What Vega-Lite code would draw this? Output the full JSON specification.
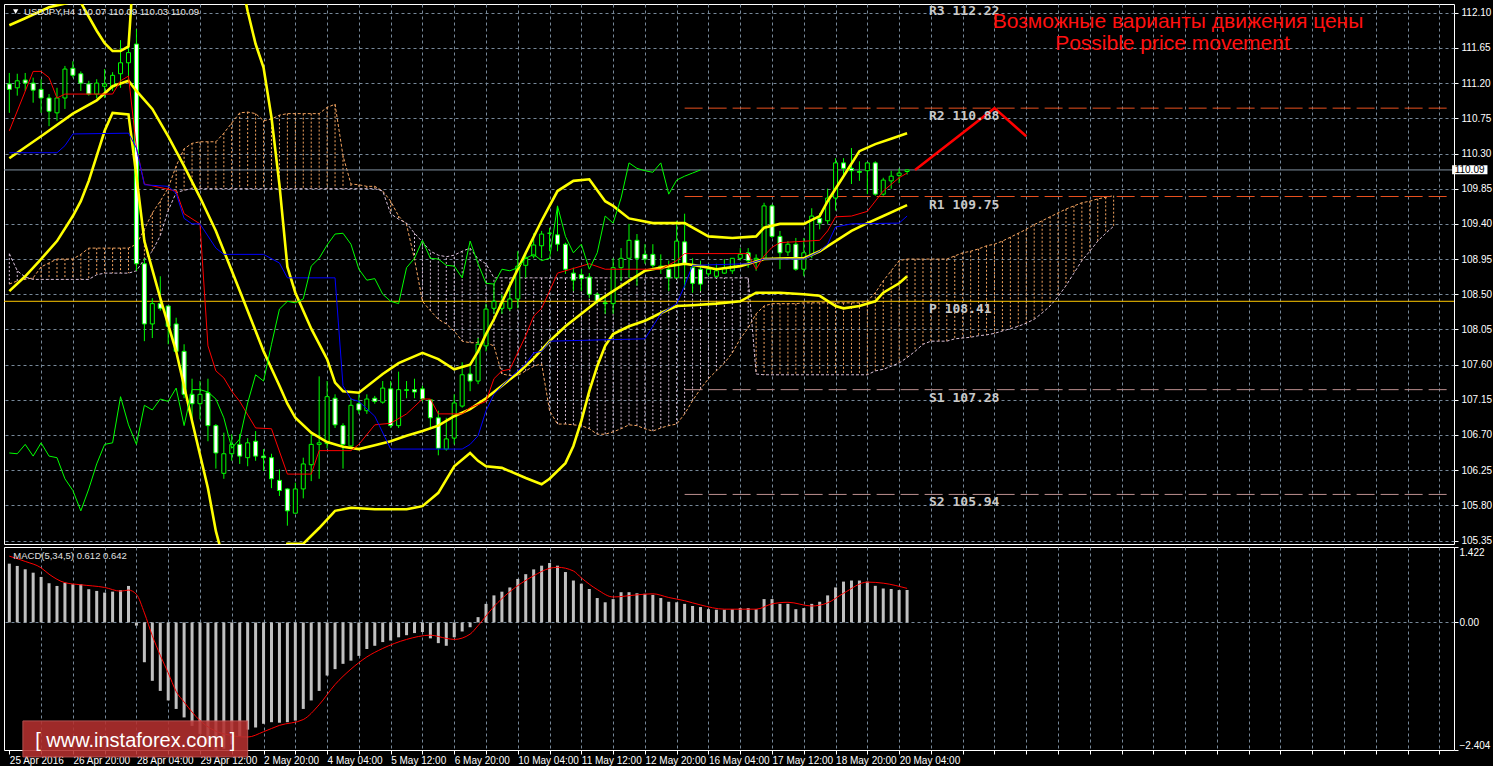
{
"$schema": "https://vega.github.io/schema/vega-lite/v6.json",
"background": "#000000",
"padding": {"left": 3, "top": 3, "right": 0, "bottom": 0},
"bounds": "flush",
"spacing": 3,
"config": {
  "view": {"stroke": "#FFFFFF", "strokeWidth": 1},
  "axis": {"gridColor": "#778899", "gridDash": [3, 3], "gridWidth": 1, "labelColor": "#FFFFFF", "labelFont": "Liberation Sans", "labelFontSize": 10, "tickColor": "#FFFFFF", "tickSize": 4, "domain": false, "labelOverlap": false}
},
"datasets": {
  "candles": [
    {"i":0,"o":111.19,"h":111.33,"l":110.82,"c":111.12},{"i":1,"o":111.14,"h":111.32,"l":111.04,"c":111.23},{"i":2,"o":111.24,"h":111.33,"l":111.10,"c":111.20},{"i":3,"o":111.20,"h":111.27,"l":110.95,"c":111.11},{"i":4,"o":111.12,"h":111.25,"l":110.82,"c":111.01},{"i":5,"o":111.01,"h":111.06,"l":110.65,"c":110.84},{"i":6,"o":110.82,"h":111.14,"l":110.72,"c":111.01},{"i":7,"o":111.01,"h":111.42,"l":110.87,"c":111.38},{"i":8,"o":111.39,"h":111.48,"l":111.27,"c":111.30},{"i":9,"o":111.32,"h":111.35,"l":111.10,"c":111.20},
    {"i":10,"o":111.19,"h":111.23,"l":111.04,"c":111.06},{"i":11,"o":111.06,"h":111.25,"l":111.01,"c":111.20},{"i":12,"o":111.16,"h":111.38,"l":111.01,"c":111.19},{"i":13,"o":111.15,"h":111.34,"l":111.10,"c":111.30},{"i":14,"o":111.32,"h":111.75,"l":111.14,"c":111.46},{"i":15,"o":111.46,"h":111.76,"l":111.25,"c":111.59},{"i":16,"o":111.70,"h":111.89,"l":108.80,"c":108.89},{"i":17,"o":108.89,"h":108.96,"l":107.90,"c":108.12},{"i":18,"o":108.12,"h":108.45,"l":107.94,"c":108.38},{"i":19,"o":108.38,"h":108.73,"l":108.29,"c":108.32},
    {"i":20,"o":108.35,"h":108.35,"l":107.86,"c":108.09},{"i":21,"o":108.12,"h":108.20,"l":107.75,"c":107.77},{"i":22,"o":107.77,"h":107.86,"l":107.17,"c":107.22},{"i":23,"o":107.22,"h":107.42,"l":106.90,"c":107.10},{"i":24,"o":107.10,"h":107.39,"l":106.90,"c":107.22},{"i":25,"o":107.24,"h":107.42,"l":106.62,"c":106.82},{"i":26,"o":106.82,"h":106.84,"l":106.27,"c":106.47},{"i":27,"o":106.21,"h":106.73,"l":106.14,"c":106.46},{"i":28,"o":106.46,"h":106.71,"l":106.37,"c":106.58},{"i":29,"o":106.58,"h":106.71,"l":106.33,"c":106.43},
    {"i":30,"o":106.41,"h":106.66,"l":106.30,"c":106.60},{"i":31,"o":106.62,"h":106.75,"l":106.37,"c":106.43},{"i":32,"o":106.43,"h":106.52,"l":106.24,"c":106.41},{"i":33,"o":106.41,"h":106.46,"l":106.02,"c":106.14},{"i":34,"o":106.12,"h":106.26,"l":105.92,"c":105.99},{"i":35,"o":106.01,"h":106.02,"l":105.54,"c":105.73},{"i":36,"o":105.70,"h":106.09,"l":105.70,"c":106.01},{"i":37,"o":106.01,"h":106.41,"l":105.89,"c":106.33},{"i":38,"o":106.32,"h":106.71,"l":106.11,"c":106.58},{"i":39,"o":106.58,"h":107.45,"l":106.14,"c":106.60},
    {"i":40,"o":106.59,"h":107.39,"l":106.53,"c":107.19},{"i":41,"o":107.17,"h":107.22,"l":106.79,"c":106.83},{"i":42,"o":106.82,"h":106.85,"l":106.27,"c":106.58},{"i":43,"o":106.56,"h":107.17,"l":106.53,"c":107.08},{"i":44,"o":107.10,"h":107.22,"l":106.97,"c":107.02},{"i":45,"o":107.01,"h":107.22,"l":106.97,"c":107.16},{"i":46,"o":107.17,"h":107.20,"l":107.10,"c":107.13},{"i":47,"o":107.12,"h":107.39,"l":107.10,"c":107.30},{"i":48,"o":107.29,"h":107.39,"l":106.79,"c":106.82},{"i":49,"o":106.82,"h":107.51,"l":106.79,"c":107.28},
    {"i":50,"o":107.27,"h":107.39,"l":107.17,"c":107.28},{"i":51,"o":107.28,"h":107.42,"l":107.17,"c":107.25},{"i":52,"o":107.29,"h":107.33,"l":107.13,"c":107.16},{"i":53,"o":107.15,"h":107.16,"l":106.79,"c":106.92},{"i":54,"o":106.92,"h":107.01,"l":106.44,"c":106.53},{"i":55,"o":106.52,"h":106.92,"l":106.50,"c":106.65},{"i":56,"o":106.66,"h":107.22,"l":106.58,"c":107.11},{"i":57,"o":107.07,"h":107.63,"l":107.05,"c":107.47},{"i":58,"o":107.48,"h":107.61,"l":107.26,"c":107.39},{"i":59,"o":107.39,"h":107.94,"l":107.35,"c":107.86},
    {"i":60,"o":107.84,"h":108.38,"l":107.77,"c":108.31},{"i":61,"o":108.32,"h":108.63,"l":108.25,"c":108.41},{"i":62,"o":108.32,"h":108.50,"l":108.25,"c":108.39},{"i":63,"o":108.32,"h":108.58,"l":108.29,"c":108.44},{"i":64,"o":108.44,"h":109.05,"l":108.32,"c":108.86},{"i":65,"o":108.87,"h":109.05,"l":108.71,"c":108.96},{"i":66,"o":108.99,"h":109.28,"l":108.96,"c":109.13},{"i":67,"o":109.12,"h":109.31,"l":108.96,"c":109.27},{"i":68,"o":109.28,"h":109.35,"l":109.05,"c":109.28},{"i":69,"o":109.26,"h":109.63,"l":109.05,"c":109.14},
    {"i":70,"o":109.14,"h":109.16,"l":108.76,"c":108.82},{"i":71,"o":108.77,"h":108.84,"l":108.54,"c":108.68},{"i":72,"o":108.75,"h":108.82,"l":108.54,"c":108.70},{"i":73,"o":108.72,"h":108.77,"l":108.45,"c":108.50},{"i":74,"o":108.50,"h":108.52,"l":108.38,"c":108.41},{"i":75,"o":108.39,"h":108.45,"l":108.25,"c":108.38},{"i":76,"o":108.38,"h":108.96,"l":108.25,"c":108.84},{"i":77,"o":108.84,"h":109.09,"l":108.67,"c":108.96},{"i":78,"o":108.96,"h":109.40,"l":108.71,"c":109.19},{"i":79,"o":109.19,"h":109.27,"l":108.61,"c":108.96},
    {"i":80,"o":109.01,"h":109.14,"l":108.89,"c":108.95},{"i":81,"o":109.01,"h":109.14,"l":108.84,"c":108.87},{"i":82,"o":108.82,"h":109.01,"l":108.76,"c":108.86},{"i":83,"o":108.82,"h":108.93,"l":108.54,"c":108.71},{"i":84,"o":108.71,"h":109.44,"l":108.71,"c":109.18},{"i":85,"o":109.17,"h":109.53,"l":108.58,"c":108.89},{"i":86,"o":108.84,"h":108.96,"l":108.52,"c":108.64},{"i":87,"o":108.82,"h":108.93,"l":108.54,"c":108.63},{"i":88,"o":108.76,"h":108.89,"l":108.73,"c":108.82},{"i":89,"o":108.73,"h":108.89,"l":108.71,"c":108.80},
    {"i":90,"o":108.77,"h":108.95,"l":108.76,"c":108.84},{"i":91,"o":108.80,"h":108.96,"l":108.76,"c":108.96},{"i":92,"o":108.96,"h":109.09,"l":108.93,"c":109.01},{"i":93,"o":109.03,"h":109.09,"l":108.84,"c":108.93},{"i":94,"o":108.94,"h":109.01,"l":108.80,"c":108.96},{"i":95,"o":108.96,"h":109.67,"l":108.95,"c":109.63},{"i":96,"o":109.63,"h":109.65,"l":109.22,"c":109.24},{"i":97,"o":109.24,"h":109.31,"l":108.82,"c":109.03},{"i":98,"o":109.04,"h":109.18,"l":108.99,"c":109.14},{"i":99,"o":109.14,"h":109.22,"l":108.80,"c":108.82},
    {"i":100,"o":108.82,"h":109.22,"l":108.73,"c":109.03},{"i":101,"o":109.01,"h":109.60,"l":108.96,"c":109.50},{"i":102,"o":109.47,"h":109.54,"l":109.33,"c":109.41},{"i":103,"o":109.44,"h":109.85,"l":109.40,"c":109.73},{"i":104,"o":109.73,"h":110.24,"l":109.57,"c":110.18},{"i":105,"o":110.18,"h":110.24,"l":109.99,"c":110.11},{"i":106,"o":110.11,"h":110.37,"l":109.91,"c":110.08},{"i":107,"o":110.07,"h":110.20,"l":109.95,"c":110.06},{"i":108,"o":110.08,"h":110.18,"l":109.78,"c":110.18},{"i":109,"o":110.18,"h":110.20,"l":109.76,"c":109.78},
    {"i":110,"o":109.78,"h":109.99,"l":109.76,"c":109.96},{"i":111,"o":109.95,"h":110.08,"l":109.85,"c":110.01},{"i":112,"o":110.02,"h":110.11,"l":109.92,"c":110.05},{"i":113,"o":110.07,"h":110.09,"l":110.03,"c":110.09}
  ],
  "cloud": [
    {"i":0,"a":108.63,"b":109.02},{"i":1,"a":108.67,"b":108.80},{"i":2,"a":108.69,"b":108.72},{"i":3,"a":108.71,"b":108.69},{"i":4,"a":108.85,"b":108.69},{"i":5,"a":108.90,"b":108.69},{"i":6,"a":108.95,"b":108.69},{"i":7,"a":108.95,"b":108.69},{"i":8,"a":108.95,"b":108.69},{"i":9,"a":109.01,"b":108.69},
    {"i":10,"a":109.09,"b":108.69},{"i":11,"a":109.09,"b":108.75},{"i":12,"a":109.09,"b":108.77},{"i":13,"a":109.09,"b":108.77},{"i":14,"a":109.09,"b":108.77},{"i":15,"a":109.09,"b":108.77},{"i":16,"a":109.14,"b":108.80},{"i":17,"a":109.33,"b":108.95},{"i":18,"a":109.54,"b":109.05},{"i":19,"a":109.69,"b":109.25},
    {"i":20,"a":109.86,"b":109.57},{"i":21,"a":110.14,"b":109.80},{"i":22,"a":110.36,"b":109.83},{"i":23,"a":110.43,"b":109.85},{"i":24,"a":110.45,"b":109.85},{"i":25,"a":110.45,"b":109.85},{"i":26,"a":110.45,"b":109.85},{"i":27,"a":110.56,"b":109.85},{"i":28,"a":110.69,"b":109.85},{"i":29,"a":110.82,"b":109.85},
    {"i":30,"a":110.83,"b":109.85},{"i":31,"a":110.81,"b":109.85},{"i":32,"a":110.72,"b":109.85},{"i":33,"a":110.74,"b":109.85},{"i":34,"a":110.79,"b":109.85},{"i":35,"a":110.81,"b":109.85},{"i":36,"a":110.81,"b":109.85},{"i":37,"a":110.81,"b":109.85},{"i":38,"a":110.81,"b":109.85},{"i":39,"a":110.81,"b":109.85},
    {"i":40,"a":110.89,"b":109.85},{"i":41,"a":110.93,"b":109.85},{"i":42,"a":110.27,"b":109.85},{"i":43,"a":109.91,"b":109.85},{"i":44,"a":109.90,"b":109.85},{"i":45,"a":109.88,"b":109.85},{"i":46,"a":109.88,"b":109.85},{"i":47,"a":109.82,"b":109.82},{"i":48,"a":109.69,"b":109.53},{"i":49,"a":109.50,"b":109.46},
    {"i":50,"a":109.39,"b":109.41},{"i":51,"a":108.95,"b":109.28},{"i":52,"a":108.41,"b":109.17},{"i":53,"a":108.29,"b":109.05},{"i":54,"a":108.18,"b":109.00},{"i":55,"a":108.12,"b":108.98},{"i":56,"a":108.03,"b":109.00},{"i":57,"a":107.90,"b":109.05},{"i":58,"a":107.88,"b":109.09},{"i":59,"a":107.88,"b":108.95},
    {"i":60,"a":107.88,"b":108.89},{"i":61,"a":107.84,"b":108.71},{"i":62,"a":107.48,"b":108.71},{"i":63,"a":107.46,"b":108.71},{"i":64,"a":107.46,"b":108.71},{"i":65,"a":107.52,"b":108.71},{"i":66,"a":107.58,"b":108.71},{"i":67,"a":107.61,"b":108.71},{"i":68,"a":107.01,"b":108.71},{"i":69,"a":106.84,"b":108.71},
    {"i":70,"a":106.84,"b":108.71},{"i":71,"a":106.83,"b":108.71},{"i":72,"a":106.82,"b":108.71},{"i":73,"a":106.78,"b":108.71},{"i":74,"a":106.71,"b":108.71},{"i":75,"a":106.71,"b":108.71},{"i":76,"a":106.74,"b":108.71},{"i":77,"a":106.78,"b":108.71},{"i":78,"a":106.83,"b":108.71},{"i":79,"a":106.82,"b":108.71},
    {"i":80,"a":106.78,"b":108.71},{"i":81,"a":106.75,"b":108.71},{"i":82,"a":106.79,"b":108.71},{"i":83,"a":106.82,"b":108.71},{"i":84,"a":106.84,"b":108.71},{"i":85,"a":106.97,"b":108.71},{"i":86,"a":107.14,"b":108.71},{"i":87,"a":107.29,"b":108.71},{"i":88,"a":107.42,"b":108.71},{"i":89,"a":107.52,"b":108.71},
    {"i":90,"a":107.62,"b":108.71},{"i":91,"a":107.75,"b":108.71},{"i":92,"a":107.93,"b":108.71},{"i":93,"a":108.07,"b":108.71},{"i":94,"a":108.25,"b":107.48},{"i":95,"a":108.35,"b":107.47},{"i":96,"a":108.38,"b":107.47},{"i":97,"a":108.38,"b":107.47},{"i":98,"a":108.38,"b":107.47},{"i":99,"a":108.38,"b":107.47},
    {"i":100,"a":108.39,"b":107.47},{"i":101,"a":108.39,"b":107.47},{"i":102,"a":108.39,"b":107.47},{"i":103,"a":108.39,"b":107.47},{"i":104,"a":108.39,"b":107.47},{"i":105,"a":108.39,"b":107.47},{"i":106,"a":108.39,"b":107.47},{"i":107,"a":108.39,"b":107.47},{"i":108,"a":108.41,"b":107.47},{"i":109,"a":108.52,"b":107.52},
    {"i":110,"a":108.67,"b":107.54},{"i":111,"a":108.80,"b":107.58},{"i":112,"a":108.93,"b":107.62},{"i":113,"a":108.95,"b":107.69},{"i":114,"a":108.95,"b":107.77},{"i":115,"a":108.95,"b":107.86},{"i":116,"a":108.95,"b":107.90},{"i":117,"a":108.95,"b":107.90},{"i":118,"a":108.95,"b":107.90},{"i":119,"a":108.99,"b":107.93},
    {"i":120,"a":109.03,"b":107.94},{"i":121,"a":109.05,"b":107.95},{"i":122,"a":109.08,"b":107.97},{"i":123,"a":109.12,"b":107.98},{"i":124,"a":109.14,"b":108.00},{"i":125,"a":109.18,"b":108.03},{"i":126,"a":109.23,"b":108.06},{"i":127,"a":109.28,"b":108.09},{"i":128,"a":109.33,"b":108.13},{"i":129,"a":109.39,"b":108.18},
    {"i":130,"a":109.44,"b":108.26},{"i":131,"a":109.49,"b":108.35},{"i":132,"a":109.54,"b":108.47},{"i":133,"a":109.59,"b":108.61},{"i":134,"a":109.63,"b":108.77},{"i":135,"a":109.67,"b":108.93},{"i":136,"a":109.69,"b":109.05},{"i":137,"a":109.72,"b":109.18},{"i":138,"a":109.74,"b":109.28},{"i":139,"a":109.76,"b":109.37}
  ],
  "lines": [
    {"s":"u","i":0,"v":111.94},{"s":"u","i":2,"v":112.03},{"s":"u","i":5,"v":112.17},{"s":"u","i":8,"v":112.24},{"s":"u","i":9,"v":112.23},{"s":"u","i":11,"v":111.87},{"s":"u","i":12,"v":111.71},{"s":"u","i":13,"v":111.61},{"s":"u","i":14,"v":111.61},{"s":"u","i":15,"v":111.67},{"s":"u","i":16,"v":113.2},{"s":"u","i":18,"v":113.8},{"s":"u","i":22,"v":114.0},{"s":"u","i":26,"v":113.9},{"s":"u","i":28,"v":113.1},{"s":"u","i":29,"v":112.6},{"s":"u","i":30,"v":112.12},{"s":"u","i":31,"v":111.70},{"s":"u","i":32,"v":111.40},{"s":"u","i":33,"v":110.76},{"s":"u","i":34,"v":109.90},{"s":"u","i":35,"v":108.85},{"s":"u","i":36,"v":108.52},{"s":"u","i":38,"v":108.06},{"s":"u","i":40,"v":107.67},{"s":"u","i":41,"v":107.37},{"s":"u","i":42,"v":107.26},{"s":"u","i":44,"v":107.24},{"s":"u","i":47,"v":107.48},{"s":"u","i":49,"v":107.62},{"s":"u","i":52,"v":107.75},{"s":"u","i":54,"v":107.67},{"s":"u","i":56,"v":107.54},{"s":"u","i":58,"v":107.60},{"s":"u","i":59,"v":107.77},{"s":"u","i":60,"v":107.99},{"s":"u","i":61,"v":108.18},{"s":"u","i":63,"v":108.61},{"s":"u","i":65,"v":109.03},{"s":"u","i":67,"v":109.44},{"s":"u","i":69,"v":109.82},{"s":"u","i":71,"v":109.95},{"s":"u","i":73,"v":109.97},{"s":"u","i":75,"v":109.69},{"s":"u","i":76,"v":109.63},{"s":"u","i":78,"v":109.47},{"s":"u","i":81,"v":109.41},{"s":"u","i":85,"v":109.41},{"s":"u","i":88,"v":109.24},{"s":"u","i":91,"v":109.22},{"s":"u","i":94,"v":109.24},{"s":"u","i":95,"v":109.35},{"s":"u","i":97,"v":109.40},{"s":"u","i":100,"v":109.40},{"s":"u","i":102,"v":109.50},{"s":"u","i":103,"v":109.69},{"s":"u","i":105,"v":110.01},{"s":"u","i":107,"v":110.33},{"s":"u","i":109,"v":110.42},{"s":"u","i":111,"v":110.49},{"s":"u","i":113,"v":110.56},
    {"s":"m","i":0,"v":110.24},{"s":"m","i":4,"v":110.52},{"s":"m","i":8,"v":110.81},{"s":"m","i":11,"v":110.98},{"s":"m","i":13,"v":111.16},{"s":"m","i":15,"v":111.23},{"s":"m","i":16,"v":111.10},{"s":"m","i":18,"v":110.87},{"s":"m","i":20,"v":110.52},{"s":"m","i":22,"v":110.14},{"s":"m","i":24,"v":109.74},{"s":"m","i":26,"v":109.31},{"s":"m","i":28,"v":108.80},{"s":"m","i":30,"v":108.29},{"s":"m","i":32,"v":107.77},{"s":"m","i":34,"v":107.33},{"s":"m","i":35,"v":107.10},{"s":"m","i":36,"v":106.92},{"s":"m","i":38,"v":106.73},{"s":"m","i":40,"v":106.61},{"s":"m","i":42,"v":106.55},{"s":"m","i":44,"v":106.52},{"s":"m","i":46,"v":106.57},{"s":"m","i":48,"v":106.62},{"s":"m","i":50,"v":106.69},{"s":"m","i":52,"v":106.75},{"s":"m","i":54,"v":106.82},{"s":"m","i":56,"v":106.94},{"s":"m","i":58,"v":107.03},{"s":"m","i":60,"v":107.17},{"s":"m","i":62,"v":107.33},{"s":"m","i":64,"v":107.49},{"s":"m","i":66,"v":107.68},{"s":"m","i":68,"v":107.90},{"s":"m","i":70,"v":108.09},{"s":"m","i":72,"v":108.25},{"s":"m","i":74,"v":108.41},{"s":"m","i":76,"v":108.54},{"s":"m","i":78,"v":108.67},{"s":"m","i":80,"v":108.80},{"s":"m","i":83,"v":108.86},{"s":"m","i":85,"v":108.89},{"s":"m","i":87,"v":108.86},{"s":"m","i":89,"v":108.82},{"s":"m","i":92,"v":108.86},{"s":"m","i":95,"v":108.95},{"s":"m","i":98,"v":108.96},{"s":"m","i":100,"v":108.96},{"s":"m","i":102,"v":109.05},{"s":"m","i":104,"v":109.18},{"s":"m","i":106,"v":109.31},{"s":"m","i":108,"v":109.41},{"s":"m","i":110,"v":109.50},{"s":"m","i":113,"v":109.64},
    {"s":"l","i":0,"v":108.54},{"s":"l","i":2,"v":108.73},{"s":"l","i":4,"v":108.95},{"s":"l","i":6,"v":109.18},{"s":"l","i":8,"v":109.50},{"s":"l","i":9,"v":109.69},{"s":"l","i":10,"v":109.95},{"s":"l","i":11,"v":110.27},{"s":"l","i":12,"v":110.59},{"s":"l","i":13,"v":110.82},{"s":"l","i":15,"v":110.80},{"s":"l","i":16,"v":110.01},{"s":"l","i":17,"v":109.18},{"s":"l","i":19,"v":108.45},{"s":"l","i":21,"v":107.77},{"s":"l","i":23,"v":106.88},{"s":"l","i":25,"v":106.02},{"s":"l","i":26,"v":105.47},{"s":"l","i":27,"v":105.09},{"s":"l","i":28,"v":104.7},{"s":"l","i":30,"v":104.3},{"s":"l","i":32,"v":104.3},{"s":"l","i":34,"v":104.8},{"s":"l","i":35,"v":105.31},{"s":"l","i":37,"v":105.31},{"s":"l","i":39,"v":105.51},{"s":"l","i":41,"v":105.73},{"s":"l","i":43,"v":105.77},{"s":"l","i":46,"v":105.75},{"s":"l","i":50,"v":105.75},{"s":"l","i":52,"v":105.79},{"s":"l","i":54,"v":105.96},{"s":"l","i":56,"v":106.30},{"s":"l","i":58,"v":106.47},{"s":"l","i":59,"v":106.37},{"s":"l","i":60,"v":106.30},{"s":"l","i":62,"v":106.28},{"s":"l","i":65,"v":106.15},{"s":"l","i":67,"v":106.07},{"s":"l","i":68,"v":106.14},{"s":"l","i":70,"v":106.34},{"s":"l","i":71,"v":106.56},{"s":"l","i":72,"v":106.88},{"s":"l","i":73,"v":107.26},{"s":"l","i":74,"v":107.58},{"s":"l","i":75,"v":107.84},{"s":"l","i":76,"v":107.99},{"s":"l","i":78,"v":108.09},{"s":"l","i":80,"v":108.16},{"s":"l","i":82,"v":108.26},{"s":"l","i":84,"v":108.35},{"s":"l","i":86,"v":108.36},{"s":"l","i":89,"v":108.38},{"s":"l","i":92,"v":108.41},{"s":"l","i":94,"v":108.52},{"s":"l","i":97,"v":108.52},{"s":"l","i":100,"v":108.50},{"s":"l","i":102,"v":108.48},{"s":"l","i":104,"v":108.35},{"s":"l","i":105,"v":108.32},{"s":"l","i":107,"v":108.35},{"s":"l","i":109,"v":108.41},{"s":"l","i":110,"v":108.52},{"s":"l","i":112,"v":108.64},{"s":"l","i":113,"v":108.73},
    {"s":"t","i":0,"v":110.59},{"s":"t","i":3,"v":111.35},{"s":"t","i":4,"v":111.35},{"s":"t","i":5,"v":111.27},{"s":"t","i":6,"v":111.01},{"s":"t","i":7,"v":111.06},{"s":"t","i":13,"v":111.06},{"s":"t","i":14,"v":111.23},{"s":"t","i":15,"v":111.29},{"s":"t","i":16,"v":110.37},{"s":"t","i":17,"v":109.91},{"s":"t","i":21,"v":109.82},{"s":"t","i":22,"v":109.53},{"s":"t","i":24,"v":109.40},{"s":"t","i":25,"v":107.84},{"s":"t","i":26,"v":107.52},{"s":"t","i":27,"v":107.43},{"s":"t","i":28,"v":107.26},{"s":"t","i":29,"v":107.13},{"s":"t","i":31,"v":106.79},{"s":"t","i":33,"v":106.78},{"s":"t","i":35,"v":106.20},{"s":"t","i":38,"v":106.20},{"s":"t","i":39,"v":106.50},{"s":"t","i":43,"v":106.50},{"s":"t","i":44,"v":106.58},{"s":"t","i":46,"v":106.83},{"s":"t","i":48,"v":106.85},{"s":"t","i":50,"v":106.97},{"s":"t","i":52,"v":107.16},{"s":"t","i":53,"v":107.16},{"s":"t","i":54,"v":106.97},{"s":"t","i":57,"v":106.97},{"s":"t","i":58,"v":107.05},{"s":"t","i":60,"v":107.13},{"s":"t","i":61,"v":107.42},{"s":"t","i":62,"v":107.52},{"s":"t","i":63,"v":107.54},{"s":"t","i":65,"v":107.97},{"s":"t","i":66,"v":108.22},{"s":"t","i":67,"v":108.32},{"s":"t","i":68,"v":108.54},{"s":"t","i":69,"v":108.77},{"s":"t","i":73,"v":108.89},{"s":"t","i":75,"v":108.82},{"s":"t","i":82,"v":108.82},{"s":"t","i":84,"v":108.93},{"s":"t","i":85,"v":109.02},{"s":"t","i":93,"v":109.02},{"s":"t","i":94,"v":108.82},{"s":"t","i":95,"v":108.99},{"s":"t","i":96,"v":109.10},{"s":"t","i":97,"v":109.16},{"s":"t","i":102,"v":109.19},{"s":"t","i":103,"v":109.31},{"s":"t","i":104,"v":109.49},{"s":"t","i":106,"v":109.50},{"s":"t","i":108,"v":109.56},{"s":"t","i":110,"v":109.82},{"s":"t","i":112,"v":109.99},{"s":"t","i":113,"v":110.05},
    {"s":"k","i":0,"v":110.31},{"s":"k","i":6,"v":110.31},{"s":"k","i":7,"v":110.40},{"s":"k","i":8,"v":110.55},{"s":"k","i":15,"v":110.56},{"s":"k","i":16,"v":110.37},{"s":"k","i":17,"v":109.90},{"s":"k","i":20,"v":109.88},{"s":"k","i":21,"v":109.79},{"s":"k","i":22,"v":109.47},{"s":"k","i":23,"v":109.40},{"s":"k","i":24,"v":109.40},{"s":"k","i":26,"v":109.09},{"s":"k","i":27,"v":109.01},{"s":"k","i":32,"v":109.01},{"s":"k","i":34,"v":108.90},{"s":"k","i":35,"v":108.71},{"s":"k","i":41,"v":108.71},{"s":"k","i":42,"v":107.33},{"s":"k","i":43,"v":107.16},{"s":"k","i":44,"v":107.13},{"s":"k","i":46,"v":106.94},{"s":"k","i":48,"v":106.52},{"s":"k","i":57,"v":106.52},{"s":"k","i":58,"v":106.58},{"s":"k","i":59,"v":106.69},{"s":"k","i":60,"v":107.01},{"s":"k","i":61,"v":107.22},{"s":"k","i":63,"v":107.43},{"s":"k","i":65,"v":107.61},{"s":"k","i":66,"v":107.75},{"s":"k","i":67,"v":107.77},{"s":"k","i":68,"v":107.90},{"s":"k","i":80,"v":107.93},{"s":"k","i":82,"v":108.25},{"s":"k","i":84,"v":108.38},{"s":"k","i":85,"v":108.61},{"s":"k","i":86,"v":108.87},{"s":"k","i":93,"v":108.89},{"s":"k","i":95,"v":108.95},{"s":"k","i":100,"v":108.95},{"s":"k","i":102,"v":109.05},{"s":"k","i":103,"v":109.14},{"s":"k","i":104,"v":109.36},{"s":"k","i":106,"v":109.40},{"s":"k","i":112,"v":109.41},{"s":"k","i":113,"v":109.50},
    {"s":"c","i":0,"v":106.47},{"s":"c","i":1,"v":106.46},{"s":"c","i":2,"v":106.58},{"s":"c","i":3,"v":106.43},{"s":"c","i":4,"v":106.60},{"s":"c","i":5,"v":106.43},{"s":"c","i":6,"v":106.41},{"s":"c","i":7,"v":106.14},{"s":"c","i":8,"v":105.99},{"s":"c","i":9,"v":105.73},{"s":"c","i":10,"v":106.01},{"s":"c","i":11,"v":106.33},{"s":"c","i":12,"v":106.58},{"s":"c","i":13,"v":106.60},{"s":"c","i":14,"v":107.19},{"s":"c","i":15,"v":106.83},{"s":"c","i":16,"v":106.58},{"s":"c","i":17,"v":107.08},{"s":"c","i":18,"v":107.02},{"s":"c","i":19,"v":107.16},{"s":"c","i":20,"v":107.13},{"s":"c","i":21,"v":107.30},{"s":"c","i":22,"v":106.82},{"s":"c","i":23,"v":107.28},{"s":"c","i":24,"v":107.28},{"s":"c","i":25,"v":107.25},{"s":"c","i":26,"v":107.16},{"s":"c","i":27,"v":106.92},{"s":"c","i":28,"v":106.53},{"s":"c","i":29,"v":106.65},{"s":"c","i":30,"v":107.11},{"s":"c","i":31,"v":107.47},{"s":"c","i":32,"v":107.39},{"s":"c","i":33,"v":107.86},{"s":"c","i":34,"v":108.31},{"s":"c","i":35,"v":108.41},{"s":"c","i":36,"v":108.39},{"s":"c","i":37,"v":108.44},{"s":"c","i":38,"v":108.86},{"s":"c","i":39,"v":108.96},{"s":"c","i":40,"v":109.13},{"s":"c","i":41,"v":109.27},{"s":"c","i":42,"v":109.28},{"s":"c","i":43,"v":109.14},{"s":"c","i":44,"v":108.82},{"s":"c","i":45,"v":108.68},{"s":"c","i":46,"v":108.70},{"s":"c","i":47,"v":108.50},{"s":"c","i":48,"v":108.41},{"s":"c","i":49,"v":108.38},{"s":"c","i":50,"v":108.84},{"s":"c","i":51,"v":108.96},{"s":"c","i":52,"v":109.19},{"s":"c","i":53,"v":108.96},{"s":"c","i":54,"v":108.95},{"s":"c","i":55,"v":108.87},{"s":"c","i":56,"v":108.86},{"s":"c","i":57,"v":108.71},{"s":"c","i":58,"v":109.18},{"s":"c","i":59,"v":108.89},{"s":"c","i":60,"v":108.64},{"s":"c","i":61,"v":108.63},{"s":"c","i":62,"v":108.82},{"s":"c","i":63,"v":108.80},{"s":"c","i":64,"v":108.84},{"s":"c","i":65,"v":108.96},{"s":"c","i":66,"v":109.01},{"s":"c","i":67,"v":108.93},{"s":"c","i":68,"v":108.96},{"s":"c","i":69,"v":109.63},{"s":"c","i":70,"v":109.24},{"s":"c","i":71,"v":109.03},{"s":"c","i":72,"v":109.14},{"s":"c","i":73,"v":108.82},{"s":"c","i":74,"v":109.03},{"s":"c","i":75,"v":109.50},{"s":"c","i":76,"v":109.41},{"s":"c","i":77,"v":109.73},{"s":"c","i":78,"v":110.18},{"s":"c","i":79,"v":110.11},{"s":"c","i":80,"v":110.08},{"s":"c","i":81,"v":110.06},{"s":"c","i":82,"v":110.18},{"s":"c","i":83,"v":109.78},{"s":"c","i":84,"v":109.96},{"s":"c","i":85,"v":110.01},{"s":"c","i":86,"v":110.05},{"s":"c","i":87,"v":110.09}
  ],
  "hlines": [{"i":-1,"i2":183,"v":108.41,"k":"P"},{"i":-1,"i2":183,"v":110.09,"k":"Q"}],
  "pivots": [
    {"i":85,"i2":181.3,"v":112.22,"k":"R","t":"R3 112.22"},{"i":85,"i2":181.3,"v":110.88,"k":"R","t":"R2 110.88"},{"i":85,"i2":181.3,"v":109.75,"k":"R","t":"R1 109.75"},{"i":85,"i2":181.3,"v":108.41,"k":"P","t":"P 108.41"},{"i":85,"i2":181.3,"v":107.28,"k":"S","t":"S1 107.28"},{"i":85,"i2":181.3,"v":105.94,"k":"S","t":"S2 105.94"}
  ],
  "forecast": [{"i":114,"v":110.09},{"i":124,"v":110.88},{"i":128,"v":110.52}],
  "titles": [{"i":147.1,"v":111.98,"t":"Возможные варианты движения цены"},{"i":146.4,"v":111.70,"t":"Possible price movement"}],
  "topinfo": [{"i":1.85,"v":112.11,"t":"USDJPY,H4  110.07 110.09 110.03 110.09"}],
  "tri": [{"i":0.8,"v":112.115}],
  "pricebox": [{"i":181.6,"i2":186.05,"v":110.149,"v2":110.034,"ti":183.8,"tv":110.09,"t":"110.09"}],
  "macd": [
    {"i":0,"m":1.108},{"i":1,"m":1.065},{"i":2,"m":1.002},{"i":3,"m":0.938},{"i":4,"m":0.858},{"i":5,"m":0.739},{"i":6,"m":0.688},{"i":7,"m":0.750},{"i":8,"m":0.720},{"i":9,"m":0.720},{"i":10,"m":0.626},{"i":11,"m":0.594},{"i":12,"m":0.562},{"i":13,"m":0.581},{"i":14,"m":0.607},{"i":15,"m":0.688},{"i":16,"m":-0.06},{"i":17,"m":-0.75},{"i":18,"m":-1.10},{"i":19,"m":-1.29},{"i":20,"m":-1.47},{"i":21,"m":-1.63},{"i":22,"m":-1.79},{"i":23,"m":-1.95},{"i":24,"m":-2.10},{"i":25,"m":-2.30},{"i":26,"m":-2.404},{"i":27,"m":-2.38},{"i":28,"m":-2.30},{"i":29,"m":-2.15},
    {"i":30,"m":-2.02},{"i":31,"m":-1.98},{"i":32,"m":-1.91},{"i":33,"m":-1.88},{"i":34,"m":-1.89},{"i":35,"m":-1.88},{"i":36,"m":-1.85},{"i":37,"m":-1.63},{"i":38,"m":-1.47},{"i":39,"m":-1.29},{"i":40,"m":-1.00},{"i":41,"m":-0.88},{"i":42,"m":-0.78},{"i":43,"m":-0.72},{"i":44,"m":-0.63},{"i":45,"m":-0.50},{"i":46,"m":-0.44},{"i":47,"m":-0.37},{"i":48,"m":-0.34},{"i":49,"m":-0.28},{"i":50,"m":-0.24},{"i":51,"m":-0.20},{"i":52,"m":-0.18},{"i":53,"m":-0.30},{"i":54,"m":-0.39},{"i":55,"m":-0.44},{"i":56,"m":-0.28},{"i":57,"m":-0.17},{"i":58,"m":-0.09},{"i":59,"m":0.10},
    {"i":60,"m":0.35},{"i":61,"m":0.51},{"i":62,"m":0.58},{"i":63,"m":0.66},{"i":64,"m":0.82},{"i":65,"m":0.91},{"i":66,"m":1.00},{"i":67,"m":1.07},{"i":68,"m":1.12},{"i":69,"m":1.07},{"i":70,"m":0.95},{"i":71,"m":0.79},{"i":72,"m":0.73},{"i":73,"m":0.63},{"i":74,"m":0.46},{"i":75,"m":0.38},{"i":76,"m":0.44},{"i":77,"m":0.57},{"i":78,"m":0.57},{"i":79,"m":0.55},{"i":80,"m":0.54},{"i":81,"m":0.52},{"i":82,"m":0.46},{"i":83,"m":0.39},{"i":84,"m":0.38},{"i":85,"m":0.35},{"i":86,"m":0.31},{"i":87,"m":0.29},{"i":88,"m":0.25},{"i":89,"m":0.24},
    {"i":90,"m":0.24},{"i":91,"m":0.25},{"i":92,"m":0.27},{"i":93,"m":0.27},{"i":94,"m":0.25},{"i":95,"m":0.44},{"i":96,"m":0.44},{"i":97,"m":0.35},{"i":98,"m":0.35},{"i":99,"m":0.25},{"i":100,"m":0.27},{"i":101,"m":0.35},{"i":102,"m":0.39},{"i":103,"m":0.51},{"i":104,"m":0.66},{"i":105,"m":0.77},{"i":106,"m":0.79},{"i":107,"m":0.79},{"i":108,"m":0.77},{"i":109,"m":0.69},{"i":110,"m":0.64},{"i":111,"m":0.63},{"i":112,"m":0.61},{"i":113,"m":0.612}
  ],
  "signal": [
    {"i":0,"s":1.25},{"i":2,"s":1.15},{"i":4,"s":1.03},{"i":5,"s":0.91},{"i":7,"s":0.75},{"i":9,"s":0.71},{"i":12,"s":0.66},{"i":14,"s":0.59},{"i":15,"s":0.61},{"i":16,"s":0.53},{"i":17,"s":0.18},{"i":18,"s":-0.25},{"i":19,"s":-0.62},{"i":20,"s":-0.95},{"i":21,"s":-1.30},{"i":22,"s":-1.50},{"i":24,"s":-1.85},{"i":27,"s":-2.10},{"i":30,"s":-2.16},{"i":32,"s":-2.06},{"i":34,"s":-1.94},{"i":37,"s":-1.83},{"i":39,"s":-1.55},{"i":41,"s":-1.17},{"i":43,"s":-0.88},{"i":45,"s":-0.65},{"i":47,"s":-0.49},{"i":50,"s":-0.32},{"i":53,"s":-0.24},{"i":55,"s":-0.30},{"i":56,"s":-0.32},{"i":58,"s":-0.22},{"i":59,"s":-0.06},{"i":61,"s":0.30},{"i":63,"s":0.58},{"i":66,"s":0.88},{"i":68,"s":1.02},{"i":69,"s":1.04},{"i":71,"s":0.97},{"i":72,"s":0.84},{"i":74,"s":0.62},{"i":76,"s":0.48},{"i":79,"s":0.52},{"i":81,"s":0.54},{"i":83,"s":0.47},{"i":85,"s":0.41},{"i":87,"s":0.33},{"i":90,"s":0.25},{"i":94,"s":0.25},{"i":96,"s":0.35},{"i":98,"s":0.38},{"i":101,"s":0.31},{"i":103,"s":0.37},{"i":105,"s":0.55},{"i":108,"s":0.76},{"i":110,"s":0.74},{"i":113,"s":0.642}
  ],
  "macdinfo": [{"i":0.5,"v":1.253,"t":"MACD(5,34,5) 0.612 0.642"}],
  "watermark": [{"i":1.71,"i2":30.0,"v":-1.856,"v2":-2.535,"ti":15.84,"tv":-2.23,"t":"[ www.instaforex.com ]"}]
},
"vconcat": [
  {
    "width": 1450,
    "height": 540,
    "resolve": {"axis": {"x": "independent", "y": "independent"}},
    "layer": [
      {
        "data": {"name": "cloud"},
        "mark": {"type": "rule", "strokeDash": [2, 2], "strokeWidth": 1, "clip": true},
        "encoding": {
          "x": {"field": "i", "type": "quantitative", "scale": {"domain": [-0.04, 181.21], "nice": false, "zero": false},
                "axis": {"values": [4,8,12,16,20,24,28,32,36,40,44,48,52,56,60,64,68,72,76,80,84,88,92,96,100,104,108,112,116,120,124,128,132,136,140,144,148,152,156,160,164,168,172,176,180], "grid": true, "labels": false, "ticks": false, "title": null}},
          "y": {"field": "a", "type": "quantitative", "scale": {"domain": [105.306, 112.212], "nice": false, "zero": false},
                "axis": {"orient": "right", "values": [105.35,105.8,106.25,106.7,107.15,107.6,108.05,108.5,108.95,109.4,109.85,110.3,110.75,111.2,111.65,112.1], "labelExpr": "format(datum.value, '.2f')", "grid": true, "labelPadding": 3, "labelOverlap": false, "labelBound": false, "title": null}},
          "y2": {"field": "b"},
          "color": {"condition": {"test": "datum.a > datum.b", "value": "#F4A460"}, "value": "#D8BFD8"}
        }
      },
      {
        "data": {"name": "cloud"},
        "mark": {"type": "line", "strokeDash": [3, 2], "strokeWidth": 1, "color": "#F4A460", "clip": true},
        "encoding": {
          "x": {"field": "i", "type": "quantitative", "scale": {"domain": [-0.04, 181.21], "nice": false, "zero": false}, "axis": null},
          "y": {"field": "a", "type": "quantitative", "scale": {"domain": [105.306, 112.212], "nice": false, "zero": false}, "axis": null}
        }
      },
      {
        "data": {"name": "cloud"},
        "mark": {"type": "line", "strokeDash": [3, 2], "strokeWidth": 1, "color": "#D8BFD8", "clip": true},
        "encoding": {
          "x": {"field": "i", "type": "quantitative", "scale": {"domain": [-0.04, 181.21], "nice": false, "zero": false}, "axis": null},
          "y": {"field": "b", "type": "quantitative", "scale": {"domain": [105.306, 112.212], "nice": false, "zero": false}, "axis": null}
        }
      },
      {
        "data": {"name": "pivots"},
        "transform": [{"filter": "datum.k != 'P'"}],
        "mark": {"type": "rule", "strokeDash": [18, 6], "strokeWidth": 1, "clip": true},
        "encoding": {
          "x": {"field": "i", "type": "quantitative", "scale": {"domain": [-0.04, 181.21], "nice": false, "zero": false}, "axis": null},
          "x2": {"field": "i2"},
          "y": {"field": "v", "type": "quantitative", "scale": {"domain": [105.306, 112.212], "nice": false, "zero": false}, "axis": null},
          "color": {"condition": {"test": "datum.k == 'R'", "value": "#E8501E"}, "value": "#BC8F8F"}
        }
      },
      {
        "data": {"name": "hlines"},
        "mark": {"type": "rule", "strokeWidth": 1, "clip": true},
        "encoding": {
          "x": {"field": "i", "type": "quantitative", "scale": {"domain": [-0.04, 181.21], "nice": false, "zero": false}, "axis": null},
          "x2": {"field": "i2"},
          "y": {"field": "v", "type": "quantitative", "scale": {"domain": [105.306, 112.212], "nice": false, "zero": false}, "axis": null},
          "color": {"condition": {"test": "datum.k == 'P'", "value": "#FFC800"}, "value": "#8090A0"}
        }
      },
      {
        "data": {"name": "candles"},
        "mark": {"type": "rule", "strokeWidth": 1, "color": "#00FF00", "clip": true},
        "encoding": {
          "x": {"field": "i", "type": "quantitative", "scale": {"domain": [-0.04, 181.21], "nice": false, "zero": false}, "axis": null},
          "y": {"field": "l", "type": "quantitative", "scale": {"domain": [105.306, 112.212], "nice": false, "zero": false}, "axis": null},
          "y2": {"field": "h"}
        }
      },
      {
        "data": {"name": "candles"},
        "mark": {"type": "bar", "size": 4, "stroke": "#00FF00", "strokeWidth": 1, "clip": true},
        "encoding": {
          "x": {"field": "i", "type": "quantitative", "scale": {"domain": [-0.04, 181.21], "nice": false, "zero": false}, "axis": null},
          "y": {"field": "o", "type": "quantitative", "scale": {"domain": [105.306, 112.212], "nice": false, "zero": false}, "axis": null},
          "y2": {"field": "c"},
          "fill": {"condition": {"test": "datum.c < datum.o", "value": "#FFFFFF"}, "value": "#000000"}
        }
      },
      {
        "data": {"name": "lines"},
        "transform": [{"filter": "datum.s == 'u' || datum.s == 'm' || datum.s == 'l'"}],
        "mark": {"type": "line", "strokeWidth": 2.6, "color": "#FFFF00", "clip": true},
        "encoding": {
          "x": {"field": "i", "type": "quantitative", "scale": {"domain": [-0.04, 181.21], "nice": false, "zero": false}, "axis": null},
          "y": {"field": "v", "type": "quantitative", "scale": {"domain": [105.306, 112.212], "nice": false, "zero": false}, "axis": null},
          "detail": {"field": "s"}
        }
      },
      {
        "data": {"name": "lines"},
        "transform": [{"filter": "datum.s == 't'"}],
        "mark": {"type": "line", "strokeWidth": 1, "color": "#FF0000", "clip": true},
        "encoding": {
          "x": {"field": "i", "type": "quantitative", "scale": {"domain": [-0.04, 181.21], "nice": false, "zero": false}, "axis": null},
          "y": {"field": "v", "type": "quantitative", "scale": {"domain": [105.306, 112.212], "nice": false, "zero": false}, "axis": null}
        }
      },
      {
        "data": {"name": "lines"},
        "transform": [{"filter": "datum.s == 'k'"}],
        "mark": {"type": "line", "strokeWidth": 1, "color": "#0000FF", "clip": true},
        "encoding": {
          "x": {"field": "i", "type": "quantitative", "scale": {"domain": [-0.04, 181.21], "nice": false, "zero": false}, "axis": null},
          "y": {"field": "v", "type": "quantitative", "scale": {"domain": [105.306, 112.212], "nice": false, "zero": false}, "axis": null}
        }
      },
      {
        "data": {"name": "lines"},
        "transform": [{"filter": "datum.s == 'c'"}],
        "mark": {"type": "line", "strokeWidth": 1, "color": "#00FF00", "clip": true},
        "encoding": {
          "x": {"field": "i", "type": "quantitative", "scale": {"domain": [-0.04, 181.21], "nice": false, "zero": false}, "axis": null},
          "y": {"field": "v", "type": "quantitative", "scale": {"domain": [105.306, 112.212], "nice": false, "zero": false}, "axis": null}
        }
      },
      {
        "data": {"name": "forecast"},
        "mark": {"type": "line", "strokeWidth": 2.5, "color": "#FF0000", "clip": true},
        "encoding": {
          "x": {"field": "i", "type": "quantitative", "scale": {"domain": [-0.04, 181.21], "nice": false, "zero": false}, "axis": null},
          "y": {"field": "v", "type": "quantitative", "scale": {"domain": [105.306, 112.212], "nice": false, "zero": false}, "axis": null}
        }
      },
      {
        "data": {"name": "pivots"},
        "mark": {"type": "text", "font": "DejaVu Sans Mono", "fontWeight": "bold", "fontSize": 13, "color": "#C8C8C8", "align": "left", "baseline": "middle", "dy": 8},
        "encoding": {
          "x": {"value": 925},
          "y": {"field": "v", "type": "quantitative", "scale": {"domain": [105.306, 112.212], "nice": false, "zero": false}, "axis": null},
          "text": {"field": "t"}
        }
      },
      {
        "data": {"name": "titles"},
        "mark": {"type": "text", "font": "Liberation Sans", "fontSize": 21, "color": "#FF1010", "align": "center", "baseline": "middle"},
        "encoding": {
          "x": {"field": "i", "type": "quantitative", "scale": {"domain": [-0.04, 181.21], "nice": false, "zero": false}, "axis": null},
          "y": {"field": "v", "type": "quantitative", "scale": {"domain": [105.306, 112.212], "nice": false, "zero": false}, "axis": null},
          "text": {"field": "t"}
        }
      },
      {
        "data": {"name": "topinfo"},
        "mark": {"type": "text", "font": "Liberation Sans", "fontSize": 9.5, "color": "#E8E8E8", "align": "left", "baseline": "middle"},
        "encoding": {
          "x": {"field": "i", "type": "quantitative", "scale": {"domain": [-0.04, 181.21], "nice": false, "zero": false}, "axis": null},
          "y": {"field": "v", "type": "quantitative", "scale": {"domain": [105.306, 112.212], "nice": false, "zero": false}, "axis": null},
          "text": {"field": "t"}
        }
      },
      {
        "data": {"name": "tri"},
        "mark": {"type": "point", "shape": "triangle-down", "filled": true, "size": 28, "color": "#FFFFFF", "opacity": 1},
        "encoding": {
          "x": {"field": "i", "type": "quantitative", "scale": {"domain": [-0.04, 181.21], "nice": false, "zero": false}, "axis": null},
          "y": {"field": "v", "type": "quantitative", "scale": {"domain": [105.306, 112.212], "nice": false, "zero": false}, "axis": null}
        }
      },
      {
        "data": {"name": "pricebox"},
        "mark": {"type": "rect", "fill": "#FFFFFF", "clip": false},
        "encoding": {
          "x": {"field": "i", "type": "quantitative", "scale": {"domain": [-0.04, 181.21], "nice": false, "zero": false}, "axis": null},
          "x2": {"field": "i2"},
          "y": {"field": "v", "type": "quantitative", "scale": {"domain": [105.306, 112.212], "nice": false, "zero": false}, "axis": null},
          "y2": {"field": "v2"}
        }
      },
      {
        "data": {"name": "pricebox"},
        "mark": {"type": "text", "font": "Liberation Sans", "fontSize": 10, "color": "#000000", "align": "center", "baseline": "middle", "clip": false},
        "encoding": {
          "x": {"field": "ti", "type": "quantitative", "scale": {"domain": [-0.04, 181.21], "nice": false, "zero": false}, "axis": null},
          "y": {"field": "tv", "type": "quantitative", "scale": {"domain": [105.306, 112.212], "nice": false, "zero": false}, "axis": null},
          "text": {"field": "t"}
        }
      }
    ]
  },
  {
    "width": 1450,
    "height": 203,
    "resolve": {"axis": {"x": "independent", "y": "independent"}},
    "layer": [
      {
        "data": {"name": "macd"},
        "mark": {"type": "bar", "size": 3, "color": "#C0C0C0", "clip": true},
        "encoding": {
          "x": {"field": "i", "type": "quantitative", "scale": {"domain": [-0.04, 181.21], "nice": false, "zero": false},
                "axis": {"values": [0,4,8,12,16,20,24,28,32,36,40,44,48,52,56,60,64,68,72,76,80,84,88,92,96,100,104,108,112,116,120,124,128,132,136,140,144,148,152,156,160,164,168,172,176,180], "grid": true, "gridColor": {"condition": {"test": "datum.value == 0", "value": "rgba(0,0,0,0)"}, "value": "#778899"}, "labelAlign": "left", "labelPadding": 1, "labelOverlap": false, "labelBound": false, "title": null,
                         "labelExpr": "(datum.value % 8 == 0 && datum.value <= 112) ? ['25 Apr 2016','26 Apr 20:00','28 Apr 04:00','29 Apr 12:00','2 May 20:00','4 May 04:00','5 May 12:00','6 May 20:00','10 May 04:00','11 May 12:00','12 May 20:00','16 May 04:00','17 May 12:00','18 May 20:00','20 May 04:00'][datum.value / 8] : ''"}},
          "y": {"field": "m", "type": "quantitative", "scale": {"domain": [-2.404, 1.422], "nice": false, "zero": false},
                "axis": {"orient": "right", "values": [-2.404, 0, 1.422], "labelFlush": true, "labelPadding": 1, "labelOverlap": false, "grid": true, "gridColor": {"condition": {"test": "datum.value == 0", "value": "#778899"}, "value": "rgba(0,0,0,0)"}, "title": null,
                         "labelExpr": "datum.value == 0 ? '0.00' : format(datum.value, '.3f')"}},
          "y2": {"datum": 0}
        }
      },
      {
        "data": {"name": "signal"},
        "mark": {"type": "line", "strokeWidth": 1, "color": "#FF0000", "clip": true, "interpolate": "monotone"},
        "encoding": {
          "x": {"field": "i", "type": "quantitative", "scale": {"domain": [-0.04, 181.21], "nice": false, "zero": false}, "axis": null},
          "y": {"field": "s", "type": "quantitative", "scale": {"domain": [-2.404, 1.422], "nice": false, "zero": false}, "axis": null}
        }
      },
      {
        "data": {"name": "macdinfo"},
        "mark": {"type": "text", "font": "Liberation Sans", "fontSize": 9.5, "color": "#E0E0E0", "align": "left", "baseline": "middle"},
        "encoding": {
          "x": {"field": "i", "type": "quantitative", "scale": {"domain": [-0.04, 181.21], "nice": false, "zero": false}, "axis": null},
          "y": {"field": "v", "type": "quantitative", "scale": {"domain": [-2.404, 1.422], "nice": false, "zero": false}, "axis": null},
          "text": {"field": "t"}
        }
      },
      {
        "data": {"name": "watermark"},
        "mark": {"type": "rect", "fill": "#B4302F", "opacity": 0.88, "stroke": "#C85A5A", "strokeWidth": 1, "clip": false},
        "encoding": {
          "x": {"field": "i", "type": "quantitative", "scale": {"domain": [-0.04, 181.21], "nice": false, "zero": false}, "axis": null},
          "x2": {"field": "i2"},
          "y": {"field": "v", "type": "quantitative", "scale": {"domain": [-2.404, 1.422], "nice": false, "zero": false}, "axis": null},
          "y2": {"field": "v2"}
        }
      },
      {
        "data": {"name": "watermark"},
        "mark": {"type": "text", "font": "Liberation Sans", "fontSize": 20, "color": "#FFFFFF", "align": "center", "baseline": "middle", "clip": false},
        "encoding": {
          "x": {"field": "ti", "type": "quantitative", "scale": {"domain": [-0.04, 181.21], "nice": false, "zero": false}, "axis": null},
          "y": {"field": "tv", "type": "quantitative", "scale": {"domain": [-2.404, 1.422], "nice": false, "zero": false}, "axis": null},
          "text": {"field": "t"}
        }
      }
    ]
  }
]
}
